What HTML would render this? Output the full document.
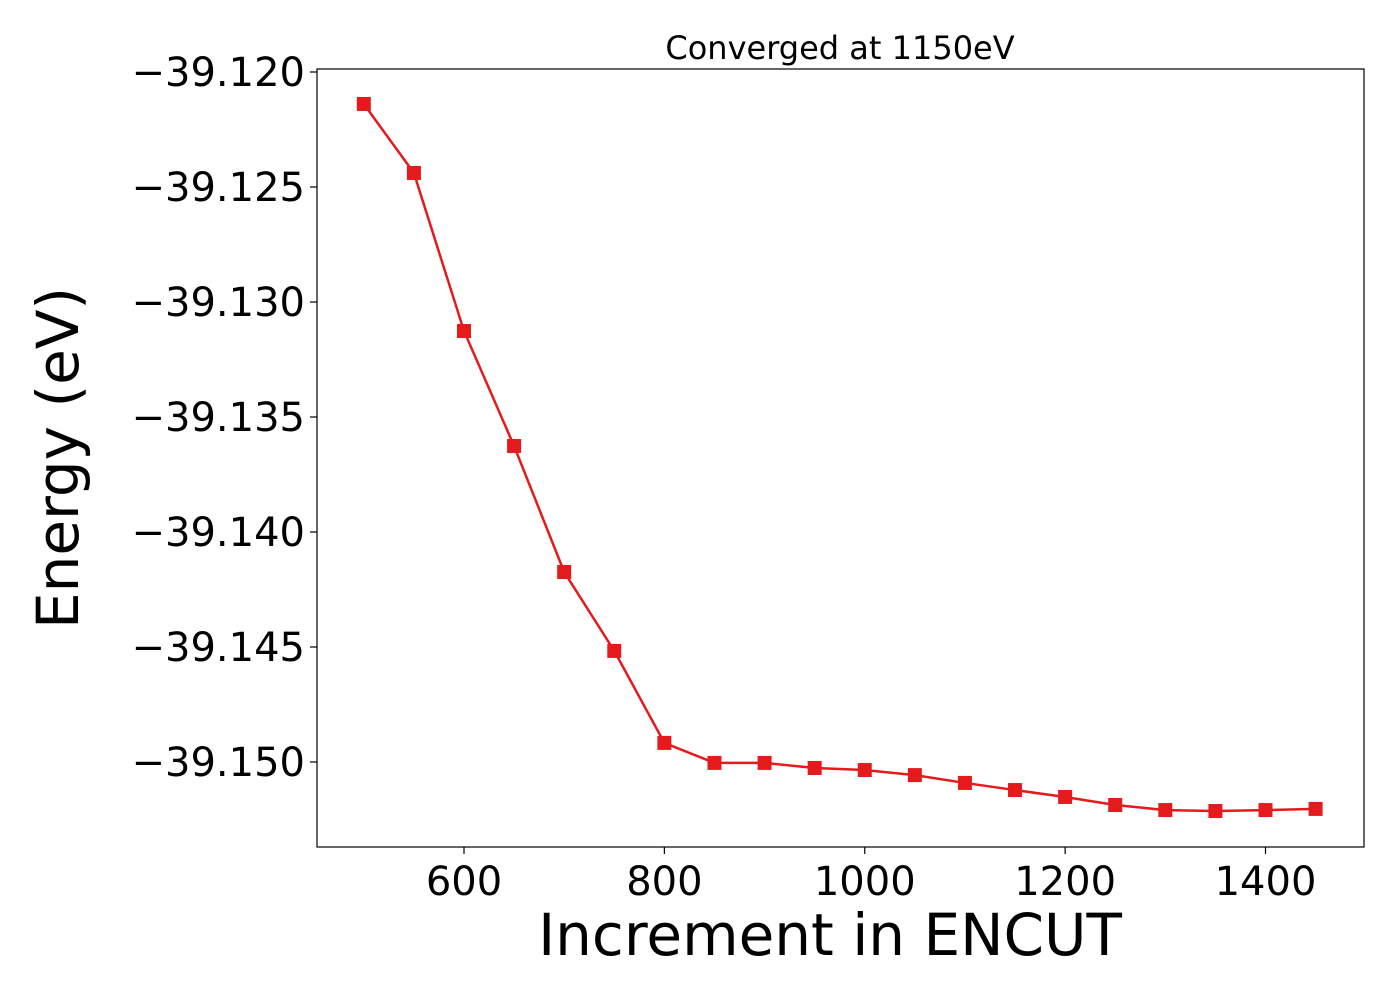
<!DOCTYPE html>
<html><head><meta charset="utf-8"><style>
html,body{margin:0;padding:0;background:#fff;}
svg{display:block;font-family:"DejaVu Sans","Liberation Sans",sans-serif;}
</style></head><body>
<svg id="chart" width="1400" height="1000"></svg>
<script>
const encut = [500,550,600,650,700,750,800,850,900,950,1000,1050,1100,1150,1200,1250,1300,1350,1400,1450];
const energy = [-39.12139,-39.12439,-39.13126,-39.13626,-39.14174,-39.14517,-39.14917,-39.15004,-39.15004,-39.15026,-39.15035,-39.15057,-39.15091,-39.15122,-39.15152,-39.15187,-39.15209,-39.15213,-39.15209,-39.15204];
const xTicks = [600,800,1000,1200,1400];
const yTicks = [-39.120,-39.125,-39.130,-39.135,-39.140,-39.145,-39.150];
const yTickLabels = ["\u221239.120","\u221239.125","\u221239.130","\u221239.135","\u221239.140","\u221239.145","\u221239.150"];

const L=317,R=1364,T=69,B=847;
const xScale=v=>464+(v-600)*(1265.5-464)/800;
const yScale=v=>72+(-39.120-v)/0.005*115;
const svg=document.getElementById('chart');
const NS='http://www.w3.org/2000/svg';
function mk(tag,attrs,parent){const e=document.createElementNS(NS,tag);for(const k in attrs)e.setAttribute(k,attrs[k]);(parent||svg).appendChild(e);return e;}

const frame=mk('rect',{x:L,y:T,width:R-L,height:B-T,fill:'none',stroke:'#000','stroke-width':1.2});



xTicks.forEach(v=>{
  const x=xScale(v);
  const t=mk('line',{x1:x,x2:x,y1:B,y2:B+7,stroke:'#000','stroke-width':1.2});
  
  
  const l=mk('text',{x:x,y:B+48,'text-anchor':'middle','font-size':40});
  l.textContent=v;
  
  
});
yTicks.forEach((v,i)=>{
  const y=yScale(v);
  const t=mk('line',{x1:L-7,x2:L,y1:y,y2:y,stroke:'#000','stroke-width':1.2});
  
  
  const l=mk('text',{x:L-12,y:y+14,'text-anchor':'end','font-size':40});
  l.textContent=yTickLabels[i];
  
  
});

const pts=encut.map((v,i)=>xScale(v)+','+yScale(energy[i])).join(' ');
const line=mk('polyline',{points:pts,fill:'none',stroke:'#e41a1c','stroke-width':2.5});


encut.forEach((v,i)=>{
  const m=mk('rect',{x:xScale(v)-7,y:yScale(energy[i])-7,width:14,height:14,fill:'#e41a1c'});
  
  
});

const title=mk('text',{x:840,y:59,'text-anchor':'middle','font-size':32});
title.textContent='Converged at 1150eV';


const xl=mk('text',{x:830,y:955,'text-anchor':'middle','font-size':58});
xl.textContent='Increment in ENCUT';


const yl=mk('text',{x:0,y:0,'text-anchor':'middle','font-size':58,transform:'translate(78,458) rotate(-90)'});
yl.textContent='Energy (eV)';


</script>
</body></html>
